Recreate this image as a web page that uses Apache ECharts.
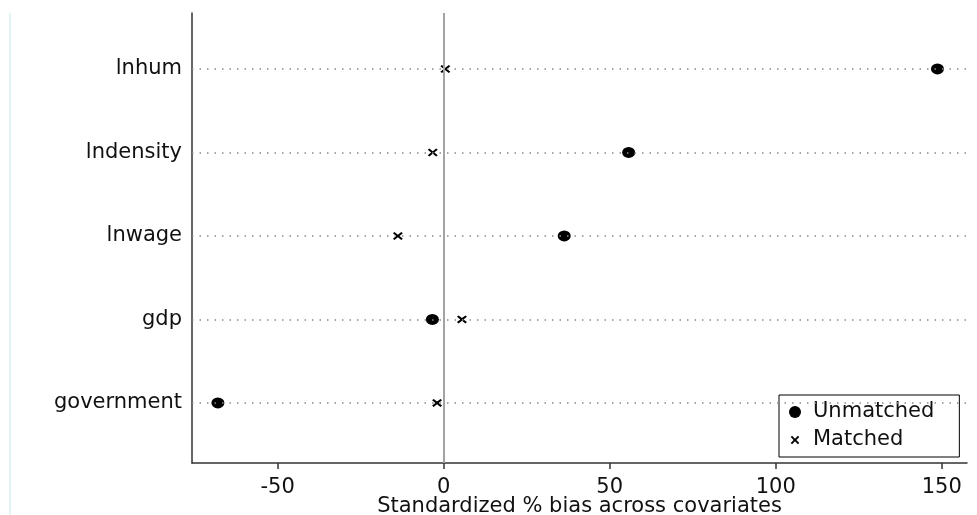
<!DOCTYPE html>
<html>
<head>
<meta charset="utf-8">
<script src="https://cdn.jsdelivr.net/npm/echarts@6/dist/echarts.min.js"></script>
<style>
  html, body { margin: 0; padding: 0; background: #fff; }
  #main { width: 977px; height: 515px; }
</style>
</head>
<body>
<div id="main"></div>
<script>
// covariates, top to bottom
var covariates = ['lnhum', 'lndensity', 'lnwage', 'gdp', 'government'];
// standardized % bias
var unmatched = [148.7, 55.7, 36.3, -3.4, -68.0];
var matched = [0.5, -3.3, -13.8, 5.5, -2.0];
var xTicks = [-50, 0, 50, 100, 150];

var font = 'DejaVu Sans';
// x mark drawn as a filled shape
var crossPath = 'path://M0,1.6L1.6,0L5,3.4L8.4,0L10,1.6L6.6,5L10,8.4L8.4,10L5,6.6L1.6,10L0,8.4L3.4,5Z';
// same mark with invisible corner specks so the legend icon stays small
var crossLegend = 'path://M-2,-2h0.01v0.01z M12,12h0.01v0.01z M0,1.6L1.6,0L5,3.4L8.4,0L10,1.6L6.6,5L10,8.4L8.4,10L5,6.6L1.6,10L0,8.4L3.4,5Z';

var chart = echarts.init(document.getElementById('main'));

var option = {
  animation: false,
  backgroundColor: '#fff',
  textStyle: { fontFamily: font },
  graphic: [{
    type: 'rect',
    shape: { x: 9, y: 13, width: 2, height: 502 },
    style: { fill: '#e4f1f5' },
    silent: true
  }],
  grid: { left: 192, right: 10, top: 13, bottom: 52, outerBoundsMode: 'none' },
  legend: {
    orient: 'vertical',
    left: 779,
    top: 395,
    padding: [6, 25, 6, 10],
    itemWidth: 14,
    itemHeight: 12,
    itemGap: 6,
    borderColor: '#000',
    borderWidth: 1,
    backgroundColor: '#fff',
    textStyle: { fontFamily: font, fontSize: 21, color: '#111', lineHeight: 22, padding: [0, 0, 0, 6] },
    data: [
      { name: 'Unmatched', icon: 'circle' },
      { name: 'Matched', icon: crossLegend }
    ]
  },
  xAxis: {
    type: 'value',
    min: -75.8,
    max: 157.6,
    name: 'Standardized % bias across covariates',
    nameLocation: 'middle',
    nameGap: 33,
    nameMoveOverlap: false,
    nameTextStyle: { fontFamily: font, fontSize: 21, color: '#111' },
    axisLine: { show: true, onZero: false, lineStyle: { color: '#333', width: 1.5 } },
    axisTick: { show: true, customValues: xTicks, length: 6, lineStyle: { color: '#333', width: 1.5 } },
    axisLabel: { customValues: xTicks, fontFamily: font, fontSize: 21, color: '#111', margin: 14 },
    splitLine: { show: false }
  },
  yAxis: {
    type: 'value',
    inverse: true,
    min: -0.67,
    max: 4.72,
    axisLine: { show: true, onZero: false, lineStyle: { color: '#333', width: 1.5 } },
    axisTick: { show: false },
    splitLine: { show: false },
    axisLabel: {
      customValues: [0, 1, 2, 3, 4],
      formatter: function (v) { return covariates[Math.round(v)]; },
      fontFamily: font,
      fontSize: 21,
      color: '#111',
      margin: 10
    }
  },
  series: [
    {
      // guide lines only
      type: 'line',
      data: [],
      z: 1,
      silent: true,
      markLine: {
        silent: true,
        symbol: 'none',
        label: { show: false },
        animation: false,
        data: covariates.map(function (c, i) {
          return { yAxis: i, lineStyle: { type: [1.5, 6], color: '#8a8a8a', width: 1.5 } };
        }).concat([{ xAxis: 0, lineStyle: { type: 'solid', color: '#a3a3a3', width: 2 } }])
      }
    },
    {
      name: 'Unmatched',
      type: 'scatter',
      z: 3,
      symbol: 'circle',
      symbolSize: [13, 11],
      itemStyle: { color: '#000', opacity: 1 },
      data: unmatched.map(function (v, i) { return [v, i]; })
    },
    {
      name: 'Matched',
      type: 'scatter',
      z: 3,
      symbol: crossPath,
      symbolSize: [10, 8],
      itemStyle: { color: '#000', opacity: 1 },
      data: matched.map(function (v, i) { return [v, i]; })
    }
  ]
};

chart.setOption(option);
</script>
</body>
</html>
